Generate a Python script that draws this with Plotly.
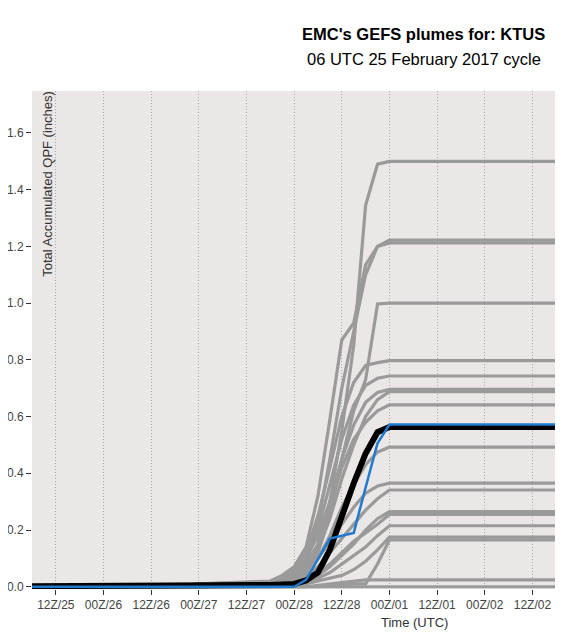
import plotly.graph_objects as go

# forecast valid times (UTC), 06Z 25 Feb 2017 cycle
times = ["2017-02-25 06:00", "2017-02-26 18:00", "2017-02-27 00:00", "2017-02-27 18:00",
         "2017-02-27 21:00", "2017-02-28 00:00", "2017-02-28 03:00", "2017-02-28 06:00",
         "2017-02-28 09:00", "2017-02-28 12:00", "2017-02-28 15:00", "2017-02-28 18:00",
         "2017-02-28 21:00", "2017-03-01 00:00", "2017-03-03 00:00"]

# ensemble members, accumulated QPF (inches)
m01 = [0, 0, 0.01, 0.015, 0.03, 0.05, 0.08, 0.15, 0.30, 0.55, 0.85, 1.345, 1.49, 1.50, 1.50]
m02 = [0, 0, 0.01, 0.02, 0.04, 0.07, 0.14, 0.32, 0.59, 0.87, 0.93, 1.135, 1.20, 1.222, 1.222]
m03 = [0, 0, 0.005, 0.01, 0.02, 0.04, 0.10, 0.22, 0.45, 0.70, 0.90, 1.10, 1.20, 1.212, 1.212]
m04 = [0, 0, 0, 0.005, 0.01, 0.02, 0.05, 0.12, 0.25, 0.45, 0.62, 0.73, 0.997, 1.0, 1.0]
m05 = [0, 0, 0.01, 0.015, 0.03, 0.06, 0.12, 0.25, 0.42, 0.60, 0.72, 0.78, 0.79, 0.797, 0.797]
m06 = [0, 0, 0.005, 0.01, 0.02, 0.04, 0.09, 0.20, 0.36, 0.52, 0.64, 0.71, 0.735, 0.743, 0.743]
m07 = [0, 0, 0.01, 0.015, 0.03, 0.05, 0.10, 0.18, 0.30, 0.45, 0.57, 0.65, 0.685, 0.696, 0.696]
m08 = [0, 0, 0, 0.005, 0.01, 0.03, 0.06, 0.13, 0.24, 0.38, 0.50, 0.60, 0.66, 0.688, 0.688]
m09 = [0, 0, 0.005, 0.01, 0.02, 0.03, 0.07, 0.15, 0.28, 0.42, 0.52, 0.58, 0.62, 0.641, 0.641]
m10 = [0, 0, 0, 0.005, 0.01, 0.02, 0.05, 0.10, 0.18, 0.28, 0.36, 0.43, 0.475, 0.492, 0.492]
m11 = [0, 0, 0.005, 0.01, 0.015, 0.03, 0.06, 0.10, 0.16, 0.22, 0.28, 0.33, 0.355, 0.365, 0.365]
m12 = [0, 0, 0, 0.005, 0.01, 0.02, 0.04, 0.07, 0.12, 0.17, 0.22, 0.27, 0.31, 0.341, 0.341]
m13 = [0, 0, 0, 0, 0.005, 0.01, 0.02, 0.04, 0.07, 0.11, 0.15, 0.20, 0.24, 0.265, 0.265]
m14 = [0, 0, 0.005, 0.01, 0.01, 0.015, 0.03, 0.05, 0.08, 0.12, 0.16, 0.19, 0.22, 0.255, 0.255]
m15 = [0, 0, 0, 0, 0.005, 0.01, 0.02, 0.03, 0.05, 0.08, 0.11, 0.14, 0.18, 0.215, 0.215]
m16 = [0, 0, 0, 0, 0, 0.005, 0.01, 0.02, 0.03, 0.04, 0.06, 0.09, 0.13, 0.175, 0.175]
m17 = [0, 0, 0, 0, 0, 0, 0, 0, 0.005, 0.005, 0.01, 0.01, 0.08, 0.165, 0.165]
m18 = [0, 0, 0, 0, 0, 0, 0, 0.005, 0.01, 0.015, 0.02, 0.024, 0.024, 0.024, 0.024]
m19 = [0, 0, 0, 0, 0, 0, 0, 0, 0, 0, 0, 0, 0, 0, 0]
members = [m01, m02, m03, m04, m05, m06, m07, m08, m09, m10,
           m11, m12, m13, m14, m15, m16, m17, m18, m19]

ens_mean = [0.002, 0.002, 0.005, 0.006, 0.008, 0.01, 0.022, 0.05, 0.13, 0.25, 0.365, 0.47, 0.545, 0.563, 0.563]
blue_run = [0, 0, 0, 0, 0, 0, 0.024, 0.095, 0.17, 0.18, 0.19, 0.35, 0.506, 0.572, 0.572]

tick_times = ["2017-02-25 12:00", "2017-02-26 00:00", "2017-02-26 12:00", "2017-02-27 00:00",
              "2017-02-27 12:00", "2017-02-28 00:00", "2017-02-28 12:00", "2017-03-01 00:00",
              "2017-03-01 12:00", "2017-03-02 00:00", "2017-03-02 12:00", "2017-03-03 00:00"]
tick_text = ["12Z/25", "00Z/26", "12Z/26", "00Z/27", "12Z/27", "00Z/28",
             "12Z/28", "00Z/01", "12Z/01", "00Z/02", "12Z/02", "00Z/03"]

fig = go.Figure()

for m in members:
    fig.add_trace(go.Scatter(x=times, y=m, mode="lines",
                             line=dict(color="#9a9a9a", width=3.2),
                             showlegend=False, hoverinfo="skip"))

fig.add_trace(go.Scatter(x=times, y=ens_mean, mode="lines",
                         line=dict(color="black", width=6),
                         showlegend=False, hoverinfo="skip"))
fig.add_trace(go.Scatter(x=times, y=blue_run, mode="lines",
                         line=dict(color="#1f7ad0", width=2.5),
                         showlegend=False, hoverinfo="skip"))

# page body has an 8px margin, so the figure is sized to fit the 563x640 window
fig.update_layout(
    width=555, height=632,
    margin=dict(l=24, r=0, t=83, b=51),
    paper_bgcolor="white",
    plot_bgcolor="#ebe7e6",
    font=dict(family="Liberation Sans, Arial, sans-serif", color="#333333"),
)

fig.update_xaxes(
    range=["2017-02-25 06:00", "2017-03-02 19:42"],
    automargin=False,
    tickmode="array", tickvals=tick_times, ticktext=tick_text,
    ticks="outside", ticklen=5, tickcolor="#333333", tickwidth=1,
    tickfont=dict(size=12, color="#444444"),
    showgrid=True, gridcolor="#a8a8a8", griddash="1px,2px", gridwidth=1,
    showline=False, zeroline=False,
)
fig.update_yaxes(
    range=[-0.008, 1.748],
    automargin=False,
    tickvals=[0.0, 0.2, 0.4, 0.6, 0.8, 1.0, 1.2, 1.4, 1.6],
    ticktext=["0.0", "0.2", "0.4", "0.6", "0.8", "1.0", "1.2", "1.4", "1.6"],
    ticks="outside", ticklen=5, tickcolor="#333333", tickwidth=1,
    tickfont=dict(size=12, color="#444444"),
    showgrid=False, showline=False, zeroline=False,
)

fig.add_annotation(text="<b>EMC's GEFS plumes for: KTUS</b>", xref="paper", yref="paper",
                   x=0.738, y=1.114, xanchor="center", yanchor="middle", showarrow=False,
                   font=dict(size=16.5, color="black"))
fig.add_annotation(text="06 UTC 25 February 2017 cycle", xref="paper", yref="paper",
                   x=0.738, y=1.065, xanchor="center", yanchor="middle", showarrow=False,
                   font=dict(size=16.5, color="black"))
fig.add_annotation(text="Total Accumulated QPF (inches)", xref="paper", yref="paper",
                   x=0.0277, y=0.813, xanchor="center", yanchor="middle", showarrow=False,
                   textangle=-90, font=dict(size=13, color="#333333"))
fig.add_annotation(text="Time (UTC)", xref="paper", yref="paper",
                   x=0.721, y=-0.068, xanchor="center", yanchor="middle", showarrow=False,
                   font=dict(size=13, color="#333333"))

fig.write_html("out.html")
